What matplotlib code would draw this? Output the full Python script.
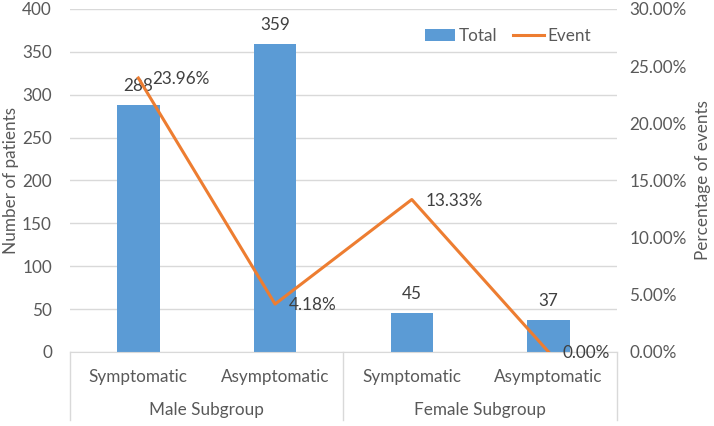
import matplotlib.pyplot as plt
import numpy as np

categories = ["Symptomatic", "Asymptomatic", "Symptomatic", "Asymptomatic"]
groups = ["Male Subgroup", "Female Subgroup"]
totals = [288, 359, 45, 37]
event_pct = [23.96, 4.18, 13.33, 0.00]

bar_color = "#5B9BD5"
line_color = "#ED7D31"
text_color = "#595959"
grid_color = "#D9D9D9"
fs = 12.3

plt.rcParams['font.family'] = ['Lato', 'DejaVu Sans']
plt.rcParams['font.size'] = fs

fig = plt.figure(figsize=(7.14, 4.26), dpi=100)
ax = fig.add_axes([0.098, 0.174, 0.766, 0.805])
x = np.arange(len(categories))

ax.bar(x, totals, width=0.31, color=bar_color, label="Total", zorder=2)
ax.set_ylim(0, 400)
ax.set_xlim(-0.5, len(categories) - 0.5)
ax.set_yticks(range(0, 401, 50))
ax.grid(axis='y', color=grid_color, linewidth=1, zorder=0)
ax.set_xticks([])
for s in ["top", "right", "left"]:
    ax.spines[s].set_visible(False)
ax.spines["bottom"].set_color(grid_color)
ax.tick_params(axis='y', length=0, colors=text_color, labelsize=fs, pad=13)
fig.text(11 / 714, 0.577, "Number of patients", rotation=90, ha='center',
         va='center', color=text_color, fontsize=fs)

for xi, v in zip(x, totals):
    ax.annotate(str(v), (xi, v), xytext=(0, 14), textcoords="offset points",
                ha='center', va='center', color="#404040", fontsize=fs)

# category labels and group separators
for xi, c in zip(x, categories):
    ax.text(xi, -0.073, c, transform=ax.get_xaxis_transform(), ha='center',
            va='center', color=text_color, fontsize=fs)
for gi, g in enumerate(groups):
    ax.text(gi * 2 + 0.5, -0.169, g, transform=ax.get_xaxis_transform(),
            ha='center', va='center', color=text_color, fontsize=fs)
for xs in [-0.5, 1.5, 3.5]:
    ax.plot([xs, xs], [0, -0.198], transform=ax.get_xaxis_transform(),
            color=grid_color, linewidth=1, clip_on=False)

ax2 = ax.twinx()
ax2.plot(x, event_pct, color=line_color, linewidth=2.2, label="Event", zorder=3)
ax2.set_ylim(0, 30)
ax2.set_yticks(range(0, 31, 5))
ax2.set_yticklabels([f"{t:.2f}%" for t in range(0, 31, 5)])
for s in ["top", "right", "left", "bottom"]:
    ax2.spines[s].set_visible(False)
ax2.tick_params(axis='y', length=0, colors=text_color, labelsize=fs, pad=9)
fig.text(703 / 714, 0.577, "Percentage of events", rotation=90, ha='center',
         va='center', color=text_color, fontsize=fs)

for xi, v in zip(x, event_pct):
    ax2.annotate(f"{v:.2f}%", (xi, v), xytext=(10, -1), textcoords="offset points",
                 ha='left', va='center', color="#404040", fontsize=fs)

h1, l1 = ax.get_legend_handles_labels()
h2, l2 = ax2.get_legend_handles_labels()
ax2.legend(h1 + h2, l1 + l2, loc='upper right', bbox_to_anchor=(0.98, 0.99),
           ncol=2, frameon=False, fontsize=fs, labelcolor=text_color,
           handlelength=1.8, columnspacing=0.9, handletextpad=0.2)

fig.savefig("out.png", dpi=100)
